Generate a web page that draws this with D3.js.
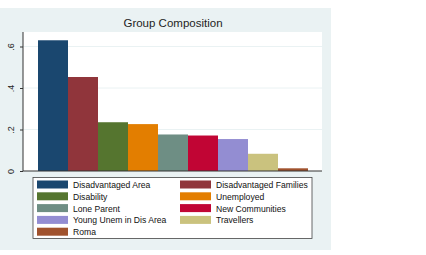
<!DOCTYPE html>
<html>
<head>
<meta charset="utf-8">
<script src="https://cdn.jsdelivr.net/npm/d3@7"></script>
<style>
  body { margin: 0; background: #fff; }
  text { font-family: "Liberation Sans", Arial, sans-serif; }
</style>
</head>
<body>
<div id="chart"></div>
<script>
var groups = ["Disadvantaged Area", "Disadvantaged Families", "Disability", "Unemployed",
  "Lone Parent", "New Communities", "Young Unem in Dis Area", "Travellers", "Roma"];
var shares = [0.63, 0.453, 0.235, 0.226, 0.176, 0.171, 0.154, 0.083, 0.013];
var colors = ["#1a476f", "#90353b", "#55752f", "#e37e00", "#6e8e84", "#c10534", "#938dd2", "#cac27e", "#a0522d"];
var yTicks = [0, 0.2, 0.4, 0.6];
var yTickLabels = ["0", ".2", ".4", ".6"];

var width = 426, height = 255;

var svg = d3.select("#chart").append("svg")
  .attr("width", width)
  .attr("height", height);

// graph region
svg.append("rect")
  .attr("x", 0).attr("y", 8)
  .attr("width", 331).attr("height", 242)
  .attr("fill", "#eaf2f3");

var plot = { left: 23, right: 322, top: 32, bottom: 171 };

svg.append("rect")
  .attr("x", plot.left).attr("y", plot.top)
  .attr("width", plot.right - plot.left).attr("height", plot.bottom - plot.top)
  .attr("fill", "#fff");

var y = d3.scaleLinear()
  .domain([0, 0.6])
  .range([plot.bottom, plot.bottom - 124.5]);

var x = d3.scaleBand()
  .domain(groups)
  .range([38, 308])
  .padding(0);

// gridlines
svg.append("g").selectAll("line")
  .data(yTicks.filter(d => d > 0))
  .enter().append("line")
  .attr("x1", plot.left).attr("x2", plot.right)
  .attr("y1", d => y(d)).attr("y2", d => y(d))
  .attr("stroke", "#eaf2f3")
  .attr("stroke-width", 1);

svg.append("text")
  .attr("x", 173).attr("y", 27)
  .attr("text-anchor", "middle")
  .attr("font-size", "11.5px")
  .attr("fill", "#1e1e1e")
  .text("Group Composition");

svg.append("g").selectAll("rect")
  .data(groups)
  .enter().append("rect")
  .attr("x", d => x(d))
  .attr("width", x.bandwidth())
  .attr("y", (d, i) => y(shares[i]))
  .attr("height", (d, i) => y(0) - y(shares[i]))
  .attr("fill", (d, i) => colors[i]);

// y axis
var yAxis = d3.axisLeft(y)
  .tickValues(yTicks)
  .tickFormat((d, i) => yTickLabels[i])
  .tickSize(3)
  .tickSizeOuter(0);

var ya = svg.append("g")
  .attr("transform", "translate(" + plot.left + ",0)")
  .call(yAxis);
ya.select(".domain").attr("d", "M0," + plot.top + "V" + plot.bottom).attr("stroke", "#333");
ya.selectAll(".tick line").attr("stroke", "#333");
ya.selectAll(".tick text")
  .attr("transform", "rotate(-90)")
  .attr("x", 0).attr("y", -10)
  .attr("dy", "0.1em")
  .attr("text-anchor", "middle")
  .attr("font-size", "9px")
  .attr("fill", "#222")
  .attr("font-family", "Liberation Sans, Arial, sans-serif");

svg.append("line")
  .attr("x1", plot.left).attr("x2", plot.right)
  .attr("y1", plot.bottom).attr("y2", plot.bottom)
  .attr("stroke", "#333");

// legend
var legend = svg.append("g");
legend.append("rect")
  .attr("x", 33).attr("y", 177.5)
  .attr("width", 279).attr("height", 61)
  .attr("fill", "#fff")
  .attr("stroke", "#444")
  .attr("stroke-width", 0.8);

var item = legend.selectAll("g.item")
  .data(groups)
  .enter().append("g")
  .attr("class", "item")
  .attr("transform", (d, i) => "translate(" + (i % 2 === 0 ? 37 : 180) + "," + (180.5 + Math.floor(i / 2) * 11.8) + ")");

item.append("rect")
  .attr("width", 31).attr("height", 8)
  .attr("fill", (d, i) => colors[i]);

item.append("text")
  .attr("x", 36).attr("y", 7.5)
  .attr("font-size", "8.6px")
  .attr("fill", "#111")
  .text(d => d);
</script>
</body>
</html>
